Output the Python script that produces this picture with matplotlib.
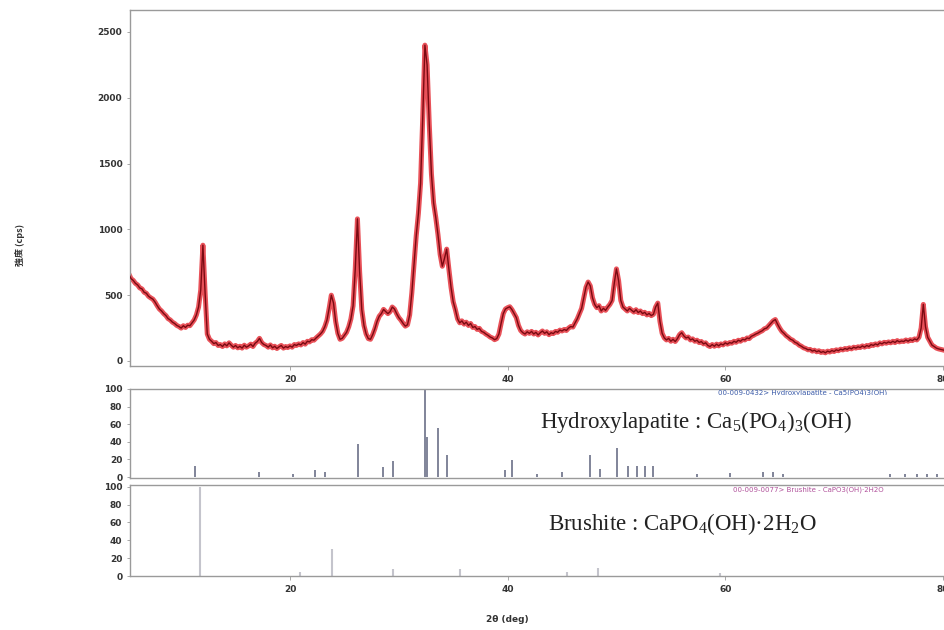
import numpy as np
import matplotlib
matplotlib.use("Agg")
import matplotlib.pyplot as plt
from matplotlib.patches import Rectangle

plt.rcParams["mathtext.fontset"] = "custom"
plt.rcParams["mathtext.rm"] = "Liberation Serif"
plt.rcParams["mathtext.it"] = "Liberation Serif:italic"
plt.rcParams["mathtext.bf"] = "Liberation Serif:bold"

# ---- measured XRD scan, 0.2 deg steps (cps) ----
STEP = 0.2
counts_05 = [  # 5.0 - 19.8 deg
    675, 660, 625, 612, 590,
    578, 555, 548, 522, 515,
    492, 480, 470, 448, 420,
    395, 380, 360, 345, 322,
    312, 295, 285, 270, 262,
    250, 268, 255, 272, 268,
    290, 312, 350, 410, 540,
    880, 520, 205, 165, 150,
    132, 140, 118, 125, 110,
    130, 115, 138, 120, 105,
    118, 100, 112, 98, 120,
    105, 115, 128, 110, 135,
    148, 172, 140, 125, 118,
    105, 122, 100, 112, 95,
    108, 118, 98, 110, 102,
]
counts_20 = [  # 20.0 - 34.8 deg
    115, 105, 125, 118, 130,
    122, 140, 128, 150, 145,
    162, 158, 175, 190, 205,
    225, 260, 310, 400, 500,
    440, 300, 210, 165, 172,
    195, 218, 260, 320, 420,
    700, 1080, 680, 390, 270,
    205, 170, 165, 200, 245,
    300, 340, 360, 392, 375,
    360, 375, 410, 395, 360,
    330, 310, 285, 265, 275,
    350, 520, 730, 950, 1120,
    1350, 1850, 2400, 2250, 1800,
    1420, 1200, 1090, 960, 810,
    720, 780, 850, 700, 560,
]
counts_35 = [  # 35.0 - 49.8 deg
    450, 390, 320, 290, 305,
    280, 295, 270, 285, 255,
    262, 240, 248, 225, 218,
    205, 195, 182, 175, 162,
    170, 205, 285, 360, 395,
    405, 412, 390, 360, 330,
    270, 232, 215, 205, 222,
    210, 225, 205, 218, 198,
    215, 228, 210, 222, 200,
    215, 208, 225, 218, 235,
    228, 240, 232, 250, 262,
    258, 290, 320, 360, 400,
    480, 560, 600, 570, 480,
    430, 405, 420, 380, 400,
    385, 410, 430, 460, 590,
]
counts_50 = [  # 50.0 - 64.8 deg
    700, 610, 460, 410, 395,
    380, 400, 385, 372, 390,
    368, 380, 360, 370, 350,
    362, 345, 355, 410, 440,
    300, 210, 175, 160, 172,
    150, 165, 148, 170, 200,
    215, 190, 175, 182, 160,
    168, 150, 158, 140, 148,
    130, 138, 118, 110, 125,
    112, 128, 115, 130, 122,
    138, 128, 140, 135, 150,
    142, 158, 150, 165, 160,
    175, 170, 188, 195, 205,
    212, 222, 230, 245, 250,
    268, 285, 305, 315, 280,
]
counts_65 = [  # 65.0 - 80.2 deg
    250, 225, 210, 192, 180,
    165, 158, 142, 135, 120,
    112, 100, 95, 85, 88,
    75, 82, 70, 78, 65,
    72, 62, 75, 68, 80,
    72, 85, 78, 90, 84,
    95, 88, 100, 92, 105,
    98, 108, 102, 115, 105,
    118, 110, 125, 118, 130,
    122, 138, 130, 142, 135,
    145, 138, 150, 140, 155,
    145, 152, 148, 160, 150,
    162, 155, 168, 160, 180,
    250, 430, 260, 180, 150,
    120, 110, 98, 92, 88,
    84, 80,
]
segments = [(5.0, counts_05), (20.0, counts_20), (35.0, counts_35),
            (50.0, counts_50), (65.0, counts_65)]

# ---- reference patterns (2theta deg, relative intensity %) ----
ha_pos = [11.3, 17.15, 20.3, 22.3, 23.2, 26.25, 28.55, 29.5, 32.4, 32.6,
          33.6, 34.4, 39.8, 40.4, 42.7, 45.0, 47.6, 48.5, 50.05, 51.07,
          51.9, 52.6, 53.36, 57.4, 60.4, 63.5, 64.4, 65.3, 75.1, 76.5,
          77.6, 78.5, 79.5]
ha_int = [12, 6, 3, 8, 6, 37, 11, 18, 100, 45,
          56, 25, 8, 19, 4, 6, 25, 9, 33, 13,
          13, 13, 13, 4, 5, 6, 6, 4, 3, 3,
          4, 3, 4]

br_pos = [11.73, 20.9, 23.86, 29.47, 35.6, 45.5, 48.3, 59.5]
br_int = [100, 4, 30, 8, 8, 5, 9, 3]

x_ticks = [20, 40, 60, 80]
y_ticks_scan = [0, 500, 1000, 1500, 2000, 2500]
y_ticks_ref = [0, 20, 40, 60, 80, 100]

ha_label = r"Hydroxylapatite : Ca$_{\mathrm{5}}$(PO$_{\mathrm{4}}$)$_{\mathrm{3}}$(OH)"
br_label = r"Brushite : CaPO$_{\mathrm{4}}$(OH)·2H$_{\mathrm{2}}$O"
ha_card = "00-009-0432> Hydroxylapatite - Ca5(PO4)3(OH)"
br_card = "00-009-0077> Brushite - CaPO3(OH)·2H2O"

two_theta = np.concatenate([s + STEP * np.arange(len(c)) for s, c in segments])
counts = np.concatenate([np.asarray(c, float) for _, c in segments])

# ---- figure ----
W, H = 944, 630
fig = plt.figure(figsize=(W / 100, H / 100), dpi=100)
fig.patch.set_facecolor("white")


def px_axes(left, top, right, bottom):
    return fig.add_axes([left / W, 1 - bottom / H, (right - left) / W, (bottom - top) / H])


ax_top = px_axes(130, 10, 944, 366)
ax_mid = px_axes(130, 389, 944, 478)
ax_bot = px_axes(130, 485, 944, 576)

XLIM = (5.3, 80.1)
tick_font = dict(fontsize=6.5, fontweight="bold", color="#333333")

for ax in (ax_top, ax_mid, ax_bot):
    ax.set_xlim(*XLIM)
    ax.set_facecolor("white")
    ax.spines["right"].set_visible(False)
    for side in ("left", "top", "bottom"):
        ax.spines[side].set_color("#9a9a9a")
        ax.spines[side].set_linewidth(1.0)
    ax.set_xticks(x_ticks)
    ax.tick_params(axis="y", length=2, width=0.6, color="#9a9a9a", pad=3.5)
    ax.tick_params(axis="x", length=3, width=0.6, color="#9a9a9a", pad=3.5)

# scan: bright red band with a dark core
ax_top.plot(two_theta, counts, color="#e3262f", lw=3.6, alpha=0.8,
            solid_joinstyle="round", solid_capstyle="round", zorder=2)
ax_top.plot(two_theta, counts, color="#7a0a12", lw=1.0,
            solid_joinstyle="round", zorder=3)
ax_top.set_ylim(-38, 2667)
ax_top.set_yticks(y_ticks_scan)
ax_top.set_yticklabels([str(v) for v in y_ticks_scan], **tick_font)
ax_top.set_xticklabels([str(v) for v in x_ticks], **tick_font)

# hydroxylapatite sticks
ax_mid.vlines(ha_pos, 0, ha_int, color="#6b7088", lw=1.2, zorder=2)
ax_mid.set_ylim(-1.1, 100)
ax_mid.set_yticks(y_ticks_ref)
ax_mid.set_yticklabels([str(v) for v in y_ticks_ref], **tick_font)
ax_mid.tick_params(axis="x", length=0, labelbottom=False)
ax_mid.text(0.722, 0.955, ha_card, transform=ax_mid.transAxes, fontsize=5,
            color="#3a5aa8", va="center", ha="left", clip_on=False)

# brushite sticks
ax_bot.vlines(br_pos, 0, br_int, color="#c4c4cc", lw=1.5, zorder=2)
ax_bot.set_ylim(0, 102)
ax_bot.set_yticks(y_ticks_ref)
ax_bot.set_yticklabels([str(v) for v in y_ticks_ref], **tick_font)
ax_bot.set_xticklabels([str(v) for v in x_ticks], **tick_font)
ax_bot.text(0.741, 0.945, br_card, transform=ax_bot.transAxes, fontsize=5,
            color="#b0509a", va="center", ha="left", clip_on=False)

# phase labels on white boxes
for (l, t, r, b) in [(535, 395, 928, 446), (533, 495, 936, 556)]:
    fig.add_artist(Rectangle((l / W, 1 - b / H), (r - l) / W, (b - t) / H,
                             transform=fig.transFigure, facecolor="white",
                             edgecolor="none", zorder=10))
fig.text(540 / W, 1 - 428 / H, ha_label, fontsize=16.5, family="Liberation Serif",
         color="#222222", ha="left", va="baseline", zorder=11)
fig.text(548 / W, 1 - 530 / H, br_label, fontsize=16.5, family="Liberation Serif",
         color="#222222", ha="left", va="baseline", zorder=11)

# axis titles
fig.text(20 / W, 1 - 245 / H, "強度 (cps)", rotation=90, fontsize=6.5,
         fontweight="bold", color="#333333", ha="center", va="center",
         family=["Noto Sans CJK JP", "DejaVu Sans"])
fig.text(507 / W, 1 - 620 / H, "2θ (deg)", fontsize=6.5, fontweight="bold",
         color="#333333", ha="center", va="center")

fig.savefig("out.png", dpi=100, facecolor="white")
